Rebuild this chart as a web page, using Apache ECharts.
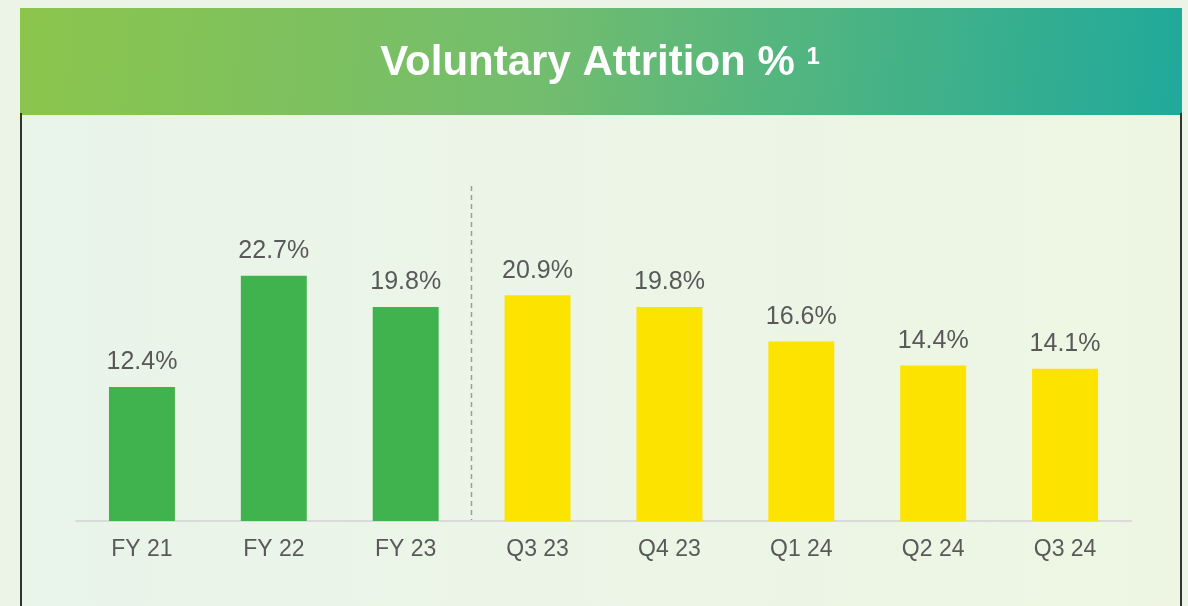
<!DOCTYPE html>
<html><head><meta charset="utf-8">
<script src="https://cdn.jsdelivr.net/npm/echarts@6/dist/echarts.min.js"></script>
<style>html,body{margin:0;padding:0;background:#ECF4E8;}#c{width:1188px;height:606px;}</style>
</head><body><div id="c"></div>
<script>
const categories = ['FY 21','FY 22','FY 23','Q3 23','Q4 23','Q1 24','Q2 24','Q3 24'];
const values = [12.4, 22.7, 19.8, 20.9, 19.8, 16.6, 14.4, 14.1];
const barColors = ['#40B34E','#40B34E','#40B34E','#FCE300','#FCE300','#FCE300','#FCE300','#FCE300'];
const titleText = 'Voluntary Attrition %';
const titleSup = '1';
const dividerAfter = 2; // divider between FY 23 and Q3 23
const yMax = 31;

const chart = echarts.init(document.getElementById('c'), null, {renderer:'canvas'});
const baseGraphics = [
  {type:'rect', z:-10, shape:{x:20,y:113,width:1162,height:493},
   style:{fill:new echarts.graphic.LinearGradient(0,0,1,0,[{offset:0,color:'#E9F4EA'},{offset:1,color:'#EEF6E3'}])}},
  {type:'rect', z:-5, shape:{x:20,y:8,width:1162,height:107},
   style:{fill:new echarts.graphic.LinearGradient(0,0,1,1,[{offset:0,color:'#8BC54C'},{offset:0.45,color:'#72BD6E'},{offset:1,color:'#20A99B'}])}},
  {type:'line', shape:{x1:21,y1:113,x2:21,y2:606}, style:{stroke:'#333',lineWidth:2}},
  {type:'line', shape:{x1:1181,y1:113,x2:1181,y2:606}, style:{stroke:'#333',lineWidth:2}},
  {type:'text', x:600, y:63, style:{
    text:'{t|'+titleText+' }{s|'+titleSup+'}',
    align:'center', verticalAlign:'middle',
    rich:{
      t:{fontFamily:'Liberation Sans, Arial, sans-serif',fontWeight:'bold',fontSize:42,fill:'#fff',lineHeight:46},
      s:{fontFamily:'Liberation Sans, Arial, sans-serif',fontWeight:'bold',fontSize:24,fill:'#fff',lineHeight:24,verticalAlign:'top',padding:[5,0,0,0]}
    }}}
];
chart.setOption({
  animation:false,
  backgroundColor:'#ECF4E8',
  graphic:baseGraphics,
  grid:{left:76,right:57,top:186,bottom:85},
  xAxis:{type:'category',data:categories,
    axisLine:{lineStyle:{color:'#DADADA',width:2}},
    axisTick:{show:false},
    axisLabel:{color:'#595959',fontSize:23,fontFamily:'Liberation Sans, Arial, sans-serif',margin:17},
    splitLine:{show:false}
  },
  yAxis:{type:'value',min:0,max:yMax,show:false,splitLine:{show:false}},
  series:[{type:'bar',barWidth:'50%',
    data:values.map((v,i)=>({value:v,itemStyle:{color:barColors[i]}})),
    label:{show:true,position:'top',distance:12,formatter:p=>p.value.toFixed(1)+'%',
      color:'#595959',fontSize:25,fontFamily:'Liberation Sans, Arial, sans-serif'}
  }]
});
const xa = chart.convertToPixel({xAxisIndex:0}, categories[dividerAfter]);
const xb = chart.convertToPixel({xAxisIndex:0}, categories[dividerAfter+1]);
const yTop = chart.convertToPixel({yAxisIndex:0}, yMax);
const yBot = chart.convertToPixel({yAxisIndex:0}, 0);
const xd = Math.round((xa+xb)/2)-0.5;
chart.setOption({graphic:baseGraphics.concat([
  {type:'line', shape:{x1:xd,y1:yTop,x2:xd,y2:yBot}, style:{stroke:'#9A9A9A',lineWidth:1.5,lineDash:[5,4]}}
])});
</script></body></html>
